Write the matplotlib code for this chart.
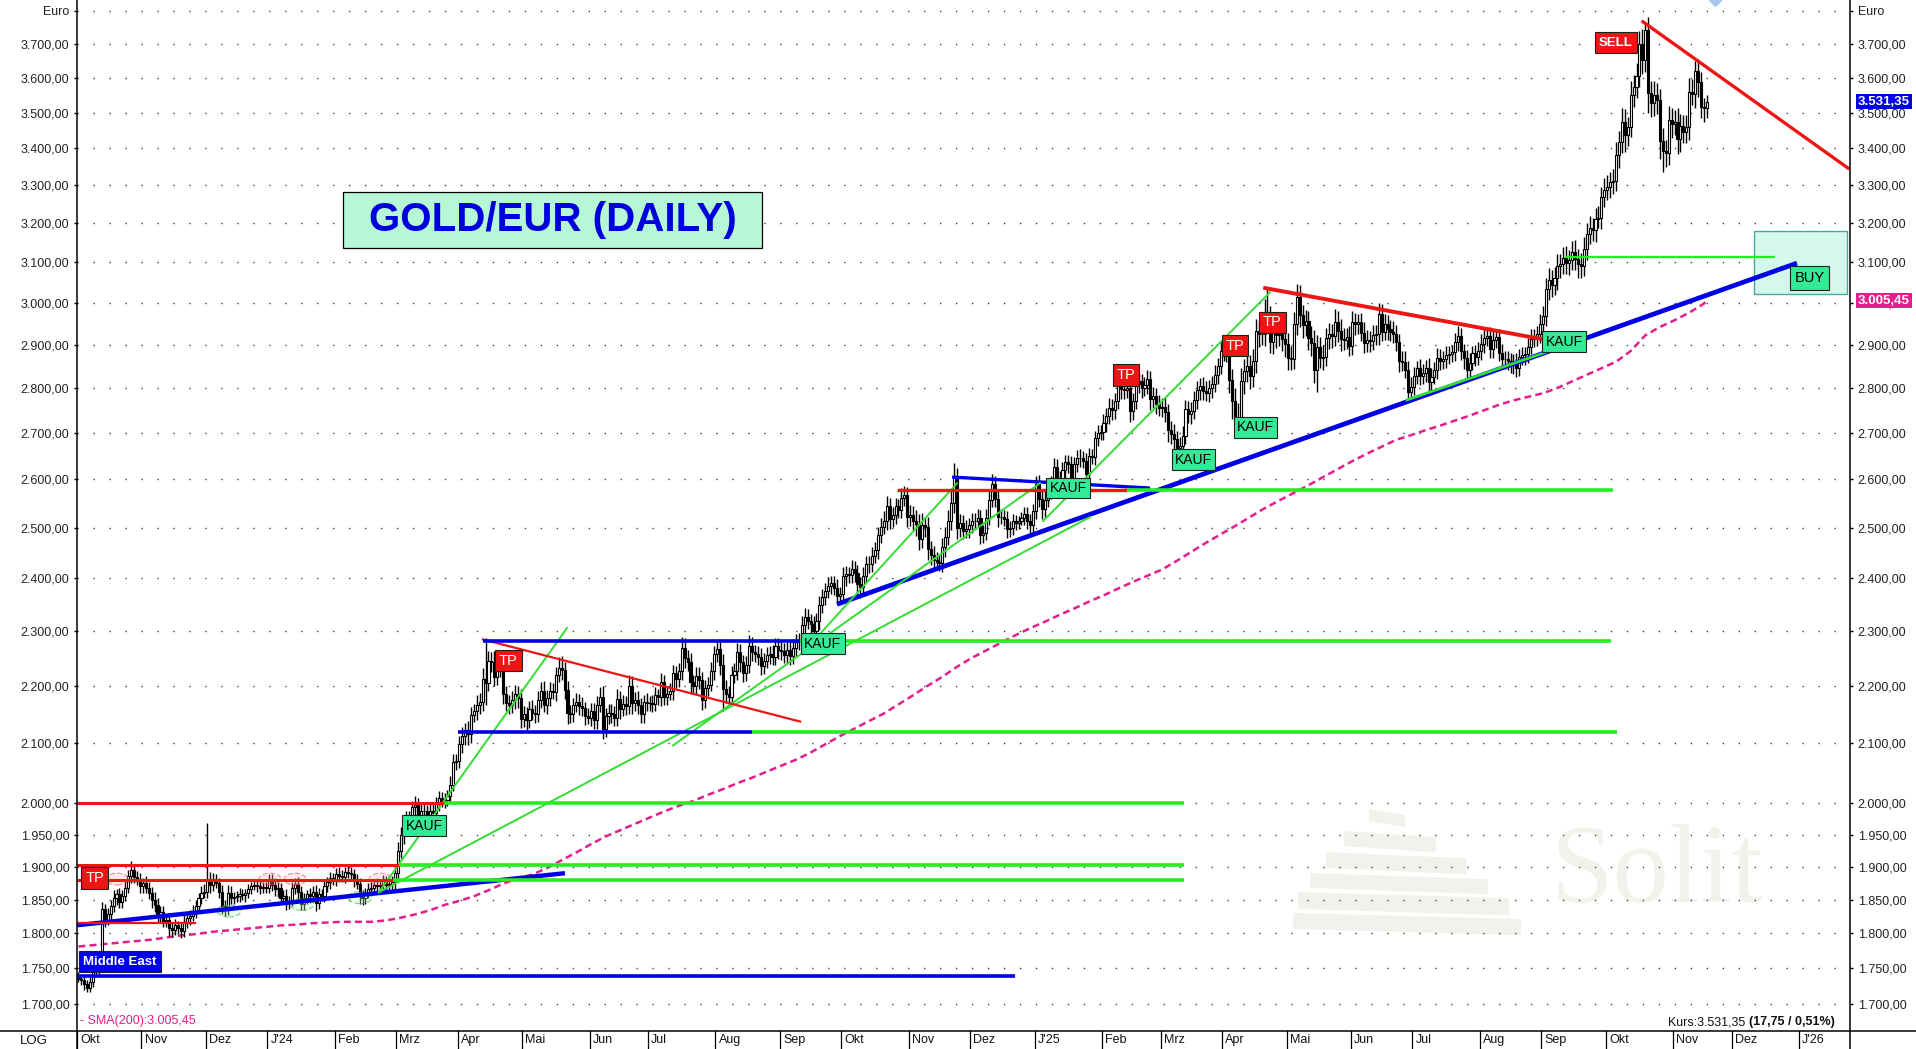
import numpy as np
import pandas as pd
import matplotlib
matplotlib.use("Agg")
import matplotlib.pyplot as plt
from matplotlib.patches import Rectangle, Polygon, Ellipse
from matplotlib.lines import Line2D
from matplotlib.ticker import FixedLocator, NullLocator

plt.rcParams['font.family'] = ['Liberation Sans', 'DejaVu Sans']
plt.rcParams['lines.scale_dashes'] = False

# Tages-Schlusskurse Gold in EUR (Handelstage ab 02.10.2023, je Zeile ein Monat)
schluss = [
    1735, 1733, 1728, 1722, 1730, 1748, 1752, 1760, 1836, 1820, 1828, 1840, 1852, 1858, 1846, 1855, 1868, 1885, 1895, 1884, 1880, 1870,
    1875, 1868, 1860, 1850, 1842, 1825, 1832, 1818, 1820, 1808, 1805, 1812, 1808, 1803, 1815, 1822, 1826, 1832, 1840, 1852, 1860, 1862,
    1880, 1872, 1880, 1875, 1862, 1840, 1835, 1860, 1852, 1854, 1856, 1858, 1857, 1860, 1866, 1870, 1872, 1871, 1867, 1869, 1868,
    1880, 1872, 1866, 1868, 1852, 1856, 1845, 1848, 1868, 1874, 1862, 1843, 1852, 1858, 1855, 1862, 1845, 1858, 1856, 1870, 1876, 1882, 1880,
    1888, 1886, 1884, 1892, 1890, 1888, 1878, 1874, 1856, 1852, 1860, 1866, 1868, 1872, 1870, 1872, 1878, 1872, 1874, 1876, 1890,
    1925, 1950, 1962, 1972, 1975, 1994, 1998, 1978, 1988, 1987, 1982, 1988, 1985, 2000, 2008, 2004, 2005, 2012, 2030, 2068, 2070,
    2098, 2112, 2122, 2115, 2148, 2155, 2165, 2172, 2212, 2205, 2245, 2242, 2215, 2236, 2240, 2185, 2170, 2166, 2174, 2186, 2178, 2142,
    2150, 2140, 2158, 2152, 2150, 2175, 2190, 2166, 2178, 2190, 2188, 2220, 2232, 2228, 2192, 2152, 2150, 2166, 2172, 2164, 2160, 2146, 2144,
    2155, 2140, 2165, 2180, 2125, 2146, 2152, 2150, 2144, 2176, 2158, 2168, 2164, 2200, 2170, 2174, 2165, 2150, 2172, 2170,
    2170, 2168, 2183, 2180, 2206, 2180, 2186, 2190, 2222, 2212, 2226, 2268, 2250, 2243, 2206, 2200, 2218, 2210, 2175, 2196, 2202, 2226, 2258,
    2266, 2238, 2195, 2186, 2180, 2220, 2226, 2260, 2242, 2222, 2238, 2272, 2260, 2257, 2252, 2236, 2245, 2255, 2258, 2252, 2272, 2265,
    2262, 2255, 2265, 2253, 2268, 2280, 2282, 2310, 2326, 2318, 2312, 2300, 2318, 2348, 2364, 2376, 2386, 2390, 2382, 2366, 2370,
    2404, 2408, 2406, 2418, 2410, 2388, 2384, 2405, 2428, 2428, 2444, 2455, 2486, 2502, 2514, 2544, 2518, 2526, 2544, 2536, 2562, 2568, 2522,
    2526, 2514, 2508, 2478, 2505, 2502, 2458, 2446, 2436, 2432, 2430, 2462, 2482, 2514, 2550, 2604, 2500, 2510, 2494, 2498, 2505,
    2514, 2515, 2520, 2486, 2490, 2520, 2558, 2590, 2560, 2522, 2523, 2518, 2498, 2500, 2514, 2510, 2515, 2520, 2528, 2513, 2506, 2534,
    2590, 2560, 2538, 2558, 2578, 2592, 2626, 2601, 2598, 2620, 2636, 2632, 2602, 2632, 2646, 2645, 2640, 2612, 2650, 2648, 2688, 2700, 2702,
    2722, 2738, 2756, 2750, 2770, 2818, 2797, 2795, 2800, 2748, 2770, 2808, 2815, 2800, 2806, 2820, 2775, 2782, 2764, 2756,
    2758, 2745, 2706, 2698, 2686, 2668, 2672, 2694, 2752, 2742, 2748, 2772, 2796, 2804, 2794, 2788, 2800, 2808, 2830, 2850, 2886,
    2885, 2888, 2818, 2770, 2732, 2722, 2815, 2838, 2850, 2828, 2862, 2932, 2925, 2926, 2975, 2962, 2906, 2940, 2922, 2926, 2914, 2902,
    2870, 2866, 2948, 3015, 2970, 2946, 2955, 2916, 2904, 2842, 2894, 2870, 2872, 2915, 2924, 2920, 2954, 2932, 2914, 2912, 2918, 2898,
    2954, 2948, 2954, 2928, 2905, 2912, 2908, 2922, 2925, 2972, 2930, 2950, 2936, 2930, 2924, 2906, 2862, 2860, 2842, 2792, 2802,
    2828, 2845, 2828, 2834, 2846, 2814, 2826, 2842, 2870, 2862, 2866, 2876, 2878, 2882, 2906, 2920, 2884, 2868, 2842, 2858, 2880, 2872, 2884,
    2902, 2916, 2920, 2890, 2912, 2918, 2880, 2866, 2866, 2862, 2852, 2858, 2846, 2872, 2875, 2877, 2895, 2914, 2918, 2925, 2950,
    2968, 3034, 3055, 3044, 3060, 3090, 3096, 3112, 3098, 3106, 3126, 3108, 3096, 3090, 3134, 3172, 3188, 3182, 3212, 3214, 3268, 3288,
    3296, 3308, 3312, 3382, 3418, 3474, 3436, 3458, 3550, 3572, 3606, 3700, 3652, 3742, 3556, 3526, 3550, 3536, 3420, 3392, 3388, 3478, 3468,
    3472, 3425, 3462, 3444, 3458, 3560, 3552, 3620, 3588, 3515, 3513.60, 3531.35,
]
erster_open = 1738

# Dochte (EUR ueber max(Open, Close) bzw. unter min(Open, Close))
docht_oben = [
    6, 5, 4, 5, 8, 10, 9, 12, 10, 8, 10, 9, 12, 8, 10, 9, 12, 10, 14, 8, 9, 10,
    8, 10, 8, 9, 12, 10, 8, 9, 7, 10, 8, 9, 6, 8, 12, 9, 8, 10, 9, 8, 10, 12,
    88, 12, 10, 9, 8, 10, 9, 12, 10, 8, 7, 9, 8, 6, 8, 7, 9, 8, 10, 7, 8,
    9, 8, 10, 8, 7, 9, 10, 8, 9, 8, 10, 9, 8, 7, 9, 8, 10, 9, 8, 9, 8, 10, 9,
    10, 12, 9, 8, 10, 9, 8, 10, 9, 8, 7, 9, 8, 9, 10, 8, 9, 8, 9, 10, 12,
    14, 12, 10, 15, 12, 10, 14, 10, 12, 15, 10, 12, 14, 10, 12, 10, 12, 10, 15, 14, 12,
    14, 15, 12, 16, 14, 12, 18, 15, 20, 74, 18, 16, 20, 15, 18, 16, 15, 14, 16, 15, 14, 16,
    14, 12, 15, 16, 14, 15, 16, 18, 14, 16, 15, 14, 20, 22, 15, 16, 14, 12, 15, 14, 16, 12, 14,
    15, 14, 16, 18, 20, 14, 15, 16, 14, 18, 15, 16, 14, 20, 18, 15, 16, 14, 12, 15,
    12, 14, 15, 12, 16, 14, 12, 15, 16, 14, 15, 20, 18, 15, 16, 14, 15, 16, 14, 15, 14, 16, 14,
    16, 18, 20, 15, 14, 16, 15, 18, 16, 14, 15, 20, 16, 14, 15, 16, 14, 15, 14, 16, 15, 14,
    14, 16, 15, 14, 16, 15, 14, 18, 16, 15, 14, 16, 15, 18, 16, 15, 16, 14, 15, 16, 14,
    18, 16, 15, 18, 16, 15, 14, 18, 16, 15, 18, 16, 15, 18, 20, 22, 18, 16, 18, 16, 20, 18, 16,
    20, 18, 22, 20, 25, 18, 20, 16, 18, 15, 16, 18, 20, 22, 25, 30, 20, 18, 16, 18, 15,
    16, 15, 18, 16, 15, 18, 20, 22, 18, 16, 15, 14, 16, 15, 14, 12, 10, 12, 14, 15, 16, 14,
    18, 20, 16, 18, 15, 16, 20, 18, 16, 18, 15, 16, 18, 15, 16, 18, 15, 16, 18, 15, 16, 18, 15,
    20, 18, 22, 20, 18, 25, 20, 22, 18, 20, 18, 22, 20, 18, 20, 22, 18, 20, 18, 20,
    20, 22, 18, 20, 22, 18, 20, 22, 20, 18, 20, 22, 20, 18, 20, 22, 18, 20, 22, 20, 22,
    25, 28, 30, 25, 30, 35, 30, 28, 30, 25, 28, 30, 25, 28, 35, 61, 30, 28, 25, 28, 25, 22,
    25, 28, 30, 30, 28, 25, 28, 25, 28, 30, 28, 25, 28, 25, 28, 25, 30, 25, 28, 25, 22, 25,
    25, 22, 20, 22, 25, 22, 20, 25, 22, 28, 25, 22, 20, 22, 25, 22, 20, 22, 25, 20, 22,
    20, 18, 22, 20, 18, 22, 20, 18, 22, 20, 18, 22, 20, 18, 22, 25, 20, 18, 20, 22, 18, 20, 22,
    22, 20, 18, 22, 20, 18, 20, 22, 18, 20, 18, 20, 22, 18, 20, 18, 20, 22, 18, 20, 22,
    25, 28, 30, 25, 28, 30, 25, 28, 30, 25, 28, 30, 25, 28, 30, 28, 30, 25, 28, 30, 28, 30,
    30, 28, 32, 35, 30, 40, 35, 30, 40, 35, 38, 40, 45, 24, 40, 35, 40, 35, 30, 35, 30, 40, 35,
    35, 40, 35, 30, 35, 40, 35, 30, 35, 30, 25, 20,
]
docht_unten = [
    5, 6, 8, 6, 5, 6, 8, 10, 6, 10, 8, 9, 8, 10, 8, 9, 7, 8, 10, 9, 8, 10,
    10, 8, 9, 12, 10, 8, 10, 9, 8, 12, 10, 8, 9, 10, 8, 7, 9, 8, 10, 9, 8, 8,
    10, 12, 9, 8, 10, 12, 10, 8, 9, 8, 7, 9, 8, 10, 7, 8, 6, 9, 8, 7, 8,
    8, 9, 10, 12, 9, 8, 10, 9, 8, 10, 12, 9, 8, 9, 10, 8, 12, 9, 8, 9, 8, 10, 8,
    9, 10, 8, 9, 8, 10, 9, 8, 12, 10, 9, 8, 9, 8, 10, 9, 8, 10, 8, 9, 10,
    10, 12, 14, 10, 12, 10, 12, 15, 10, 12, 10, 12, 10, 14, 12, 10, 12, 10, 12, 10, 14,
    12, 14, 15, 18, 14, 12, 15, 14, 16, 40, 15, 18, 16, 14, 20, 18, 15, 16, 14, 15, 18, 16,
    15, 18, 14, 12, 16, 14, 15, 12, 16, 14, 12, 15, 14, 18, 16, 20, 15, 14, 12, 16, 14, 15, 12,
    14, 16, 15, 12, 18, 15, 14, 16, 15, 14, 16, 12, 15, 14, 20, 15, 14, 16, 15, 14,
    14, 15, 12, 14, 16, 15, 14, 12, 15, 16, 14, 15, 18, 16, 20, 15, 14, 16, 18, 15, 14, 12, 15,
    15, 18, 40, 16, 15, 14, 16, 15, 18, 16, 14, 15, 16, 15, 14, 16, 15, 14, 16, 15, 14, 16,
    15, 14, 16, 15, 14, 16, 15, 14, 18, 15, 16, 14, 15, 16, 14, 15, 14, 16, 15, 14, 16,
    16, 18, 15, 16, 18, 20, 22, 16, 15, 18, 16, 15, 18, 16, 15, 18, 20, 16, 18, 15, 16, 18, 20,
    18, 20, 25, 22, 18, 20, 22, 20, 18, 16, 15, 18, 20, 16, 18, 20, 22, 18, 16, 15, 18,
    15, 16, 14, 18, 16, 14, 15, 16, 18, 20, 15, 14, 18, 16, 15, 14, 12, 10, 14, 15, 16, 14,
    16, 18, 20, 15, 16, 18, 15, 16, 18, 15, 16, 18, 20, 15, 16, 18, 15, 20, 16, 15, 18, 16, 15,
    18, 20, 18, 22, 20, 18, 22, 20, 18, 25, 20, 18, 20, 22, 18, 20, 25, 20, 22, 18,
    22, 20, 25, 22, 20, 25, 22, 20, 18, 20, 22, 18, 20, 22, 20, 18, 20, 22, 18, 20, 18,
    22, 25, 30, 40, 30, 25, 30, 28, 25, 30, 25, 28, 30, 25, 28, 30, 25, 28, 30, 25, 28, 30,
    28, 25, 22, 25, 28, 30, 25, 28, 30, 30, 52, 25, 28, 22, 25, 28, 22, 25, 28, 25, 22, 25,
    22, 25, 22, 20, 25, 22, 25, 20, 22, 25, 22, 20, 25, 22, 20, 22, 25, 22, 20, 15, 20,
    18, 20, 22, 18, 20, 25, 20, 18, 22, 20, 18, 20, 22, 18, 20, 22, 20, 25, 22, 20, 18, 22, 20,
    20, 22, 18, 20, 22, 20, 18, 20, 22, 20, 18, 20, 22, 18, 20, 22, 20, 18, 20, 22, 20,
    22, 25, 28, 30, 25, 28, 30, 25, 28, 30, 25, 28, 35, 30, 25, 28, 25, 28, 30, 25, 28, 25,
    28, 30, 32, 28, 35, 30, 45, 30, 28, 35, 30, 32, 40, 35, 56, 40, 35, 40, 50, 56, 40, 35, 40,
    30, 40, 35, 30, 28, 35, 30, 40, 45, 30, 40, 30,
]

sma_tag = list(range(0, 556, 5)) + [556]
sma200 = [
    1781, 1783, 1785, 1787, 1789, 1791, 1794, 1797, 1799, 1802,
    1804, 1806, 1808, 1810, 1812, 1813, 1815, 1816, 1817, 1817,
    1817, 1819, 1823, 1828, 1834, 1842, 1848, 1855, 1864, 1874,
    1882, 1888, 1898, 1910, 1922, 1935, 1947, 1957, 1967, 1977,
    1987, 1996, 2004, 2014, 2023, 2033, 2042, 2052, 2062, 2072,
    2084, 2098, 2112, 2125, 2138, 2151, 2167, 2183, 2200, 2216,
    2234, 2250, 2264, 2278, 2292, 2305, 2317, 2330, 2342, 2355,
    2367, 2380, 2393, 2405, 2417, 2434, 2452, 2470, 2487, 2504,
    2522, 2540, 2556, 2572, 2588, 2605, 2622, 2639, 2655, 2670,
    2685, 2695, 2706, 2716, 2727, 2738, 2750, 2762, 2772, 2780,
    2788, 2800, 2815, 2830, 2845, 2860, 2885, 2922, 2942, 2958,
    2976, 2998, 3005.45,
]

# Achse
y_ticks = [1700, 1750, 1800, 1850, 1900, 1950, 2000, 2100, 2200, 2300, 2400, 2500, 2600,
           2700, 2800, 2900, 3000, 3100, 3200, 3300, 3400, 3500, 3600, 3700, 3800]
y_min, y_max = 1663.2, 3834
x_min, x_max = -0.5, 604.9
monatsnamen = ['Jan', 'Feb', 'Mrz', 'Apr', 'Mai', 'Jun', 'Jul', 'Aug', 'Sep', 'Okt', 'Nov', 'Dez']

# Zeichnungen: (Tag, Kurs, Tag, Kurs, Breite)
blau_trends = [(-0.5, 1812, 166.1, 1890, 3.2), (259.0, 2350, 586.8, 3098, 3.4), (298.3, 2605, 365.9, 2582, 2.4)]
gruen_trends = [(102.6, 1861, 166.8, 2305, 1.4), (102.6, 1861, 345.4, 2522, 1.4), (203.0, 2096, 328.3, 2592, 1.4),
                (248.1, 2264, 300.0, 2592, 1.4), (329.4, 2514, 406.9, 3026, 1.4), (453.6, 2773, 501.4, 2883, 2.0)]
rot_trends = [(138.1, 2284, 246.4, 2137, 1.6), (405.2, 3036, 499.7, 2913, 2.8), (534.2, 3767, 604.2, 3346, 2.4)]
# Horizontale Marken: (Kurs, von Tag, bis Tag, Breite)
rot_marken = [(2000, -0.5, 124.8, 2.2), (1902, -0.5, 109.5, 2.2), (1880, -0.5, 107.4, 2.2),
              (1815, -0.5, 40.1, 1.6), (2578, 279.5, 358.0, 2.4)]
gruen_marken = [(2000, 124.8, 377.5, 2.6), (1902, 109.5, 377.5, 2.6), (1880, 107.4, 377.5, 2.6),
                (2282, 246.4, 523.3, 2.6), (2119, 230.0, 525.4, 2.6), (2578, 358.0, 524.0, 2.6),
                (3113, 507.6, 579.3, 1.6)]
blau_marken = [(2282, 138.1, 246.4, 2.6), (2119, 129.6, 230.0, 2.6), (1739, -0.5, 319.8, 2.6)]
tp_boxen = [(5.5, 1883), (146.8, 2245), (357.7, 2829), (394.9, 2898), (407.7, 2953)]
kauf_boxen = [(118.0, 1964), (254.1, 2276), (337.9, 2582), (380.7, 2642), (401.9, 2712), (507.3, 2907)]
rote_kreise = [(13.2, 1881), (65.4, 1881), (74.0, 1881), (103.0, 1881)]
gruene_kreise = [(51.4, 1833), (76.3, 1843), (96.1, 1853)]

ROT = '#ee1515'
BLAU = '#0000e6'
GRUEN = '#22ee22'
KAUF_GRUEN = '#33eb96'
MAGENTA = '#e41e8c'
WASSER = '#f3f1ec'


def de_zahl(v):
    s = f"{v:,.2f}"
    return s.replace(',', 'X').replace('.', ',').replace('X', '.')


fig = plt.figure(figsize=(19.16, 10.49), dpi=100)
ax = fig.add_axes([77 / 1916, 18 / 1049, 1773 / 1916, 1031 / 1049])
ax.set_yscale('log')
ax.set_xlim(x_min, x_max)
ax.set_ylim(y_min, y_max)

# Kerzen
c = np.array(schluss, dtype=float)
o = np.concatenate([[erster_open], c[:-1]])
oben = np.maximum(o, c)
unten = np.minimum(o, c)
hoch = oben + np.array(docht_oben)
tief = unten - np.array(docht_unten)
x = np.arange(len(c))
ax.vlines(x, tief, hoch, color='black', linewidth=1.0, zorder=3)
steigend = c >= o
ax.bar(x[steigend], (oben - unten)[steigend], bottom=unten[steigend], width=0.72,
       color='white', edgecolor='black', linewidth=0.8, zorder=4)
ax.bar(x[~steigend], (oben - unten)[~steigend], bottom=unten[~steigend], width=0.72,
       color='black', edgecolor='black', linewidth=0.8, zorder=4)

# SMA 200
ax.plot(sma_tag, sma200, color=MAGENTA, linewidth=1.8, linestyle=(0, (5, 3)), zorder=2.5)

# Linien
for x0, y0, x1, y1, lw in blau_trends:
    ax.plot([x0, x1], [y0, y1], color=BLAU, linewidth=lw, solid_capstyle='butt', zorder=6)
for x0, y0, x1, y1, lw in gruen_trends:
    ax.plot([x0, x1], [y0, y1], color='#33dd33', linewidth=lw, zorder=6)
for x0, y0, x1, y1, lw in rot_trends:
    ax.plot([x0, x1], [y0, y1], color=ROT, linewidth=lw, zorder=6)
for kurs, a, b, lw in rot_marken:
    ax.hlines(kurs, a, b, color=ROT, linewidth=lw, zorder=6)
for kurs, a, b, lw in gruen_marken:
    ax.hlines(kurs, a, b, color=GRUEN, linewidth=lw, zorder=6)
for kurs, a, b, lw in blau_marken:
    ax.hlines(kurs, a, b, color=BLAU, linewidth=lw, zorder=6)

for xm, ym in rote_kreise:
    ax.add_patch(Ellipse((xm, ym), 7.5, 18, fc=(1, 0.7, 0.7, 0.3), ec=(0.93, 0.3, 0.3, 0.6), lw=0.8, ls='--', zorder=5))
for xm, ym in gruene_kreise:
    ax.add_patch(Ellipse((xm, ym), 8, 18, fc=(0.7, 1, 0.7, 0.3), ec=(0.2, 0.65, 0.2, 0.6), lw=0.8, ls='--', zorder=5))

# BUY-Zone
ax.add_patch(Rectangle((572.1, 3021.5), 31.8, 158.5, fc='#d4f8ec', ec='#4aa8a0', lw=1.0, zorder=5.5))


def box(xm, ym, txt, fc, tc, bold=False, fs=9.5, pad=0.18):
    ax.text(xm, ym, txt, ha='center', va='center', fontsize=fs, color=tc,
            fontweight='bold' if bold else 'normal', zorder=9,
            bbox=dict(boxstyle=f'square,pad={pad}', fc=fc, ec='#202020', lw=0.8))


for xm, ym in tp_boxen:
    box(xm, ym, 'TP', ROT, 'white', fs=10.5, pad=0.26)
for xm, ym in kauf_boxen:
    box(xm, ym, 'KAUF', KAUF_GRUEN, 'black', fs=10, pad=0.24)
box(525.0, 3704, 'SELL', ROT, 'white', bold=True, fs=9.5, pad=0.34)
box(591.1, 3061, 'BUY', KAUF_GRUEN, 'black', fs=10.5, pad=0.32)
box(14.2, 1759, 'Middle East', BLAU, 'white', bold=True, fs=9.5, pad=0.34)

# Titel
ax.add_patch(Rectangle((90.3, 3136), 143.1, 146, fc='#b6f7d6', ec='black', lw=0.9, zorder=9))
ax.text(161.9, 3208, 'GOLD/EUR (DAILY)', ha='center', va='center', fontsize=29,
        fontweight='bold', color='#0000dd', zorder=10)

# Wasserzeichen
ax.text(0.8308, 0.1251, 'Solit', transform=ax.transAxes, fontsize=81,
        family=['Liberation Serif', 'DejaVu Serif'], color=WASSER, ha='left', va='baseline', zorder=0.2)
logo_stufen = [(0.7287, 0.7490, 0.2153, 0.2037), (0.7146, 0.7665, 0.1940, 0.1794),
               (0.7045, 0.7834, 0.1736, 0.1581), (0.6954, 0.7958, 0.1532, 0.1387),
               (0.6887, 0.8077, 0.1348, 0.1183), (0.6858, 0.8144, 0.1145, 0.0989)]
for xl, xr, yt, yb in logo_stufen:
    ax.add_patch(Polygon([(xl, yt), (xr, yt - 0.006), (xr, yb - 0.006), (xl, yb)],
                         closed=True, transform=ax.transAxes, fc=WASSER, ec='none', zorder=0.3))

# kleine Markierung oben
ax.plot([558.8], [y_max], marker='D', ms=6, color='#a9c6ec', zorder=1)

# Y-Achse
ax.yaxis.set_major_locator(FixedLocator(y_ticks))
ax.yaxis.set_minor_locator(NullLocator())
ax.set_yticklabels(['Euro' if t == 3800 else de_zahl(t) for t in y_ticks])
ax.tick_params(axis='y', which='both', left=True, right=True, labelleft=True, labelright=True,
               direction='out', length=2.5, width=1, pad=3, labelsize=9, labelcolor='#222222')
ax.grid(True, axis='y', which='major', color='#444444', linewidth=1.0, linestyle=(0, (1.0, 10.5)), zorder=0.5)
ax.set_axisbelow(True)
ax.xaxis.set_visible(False)
for sp in ax.spines.values():
    sp.set_visible(False)

# Kursmarken rechts
ax.text(1.0045, 3531.35, de_zahl(3531.35), transform=ax.get_yaxis_transform(), ha='left', va='center',
        fontsize=9.5, fontweight='bold', color='white', zorder=12, clip_on=False,
        bbox=dict(boxstyle='square,pad=0.14', fc=BLAU, ec='none'))
ax.text(1.0045, 3005.45, de_zahl(3005.45), transform=ax.get_yaxis_transform(), ha='left', va='center',
        fontsize=9.5, fontweight='bold', color='white', zorder=12, clip_on=False,
        bbox=dict(boxstyle='square,pad=0.14', fc=MAGENTA, ec='none'))

# Monatsleiste
alle_tage = pd.bdate_range('2023-10-02', '2026-02-27')
monate = np.asarray(alle_tage.month)
starts = np.flatnonzero(np.r_[True, monate[1:] != monate[:-1]])
xt = ax.get_xaxis_transform()
streifen = 18 / 1031
for s in starts:
    if s - 0.5 >= x_max:
        break
    d = alle_tage[s]
    lab = f"J'{d.year % 100:02d}" if d.month == 1 else monatsnamen[d.month - 1]
    ax.plot([s - 0.5, s - 0.5], [0, -streifen], transform=xt, color='black', linewidth=0.9, clip_on=False)
    ax.text(s + 0.6, -streifen / 2, lab, transform=xt, ha='left', va='center', fontsize=9, color='#111111',
            clip_on=False)

# Rahmen
pos = ax.get_position()
fig.add_artist(Line2D([0, 1], [pos.y0, pos.y0], transform=fig.transFigure, color='black', linewidth=1.1))
fig.add_artist(Line2D([pos.x0, pos.x0], [0, 1], transform=fig.transFigure, color='black', linewidth=1.1))
fig.add_artist(Line2D([pos.x1, pos.x1], [0, 1], transform=fig.transFigure, color='black', linewidth=1.1))
fig.text(20 / 1916, 8 / 1049, 'LOG', ha='left', va='center', fontsize=9.5, color='#111111')

# Fusszeilen
ax.text(0.0015, 0.0095, '- SMA(200):' + de_zahl(3005.45), transform=ax.transAxes, ha='left', va='center',
        fontsize=9, color=MAGENTA, zorder=10)
fig.canvas.draw()
r = fig.canvas.get_renderer()
t_fett = ax.text(0.9915, 0.0087, '(17,75 / 0,51%)', transform=ax.transAxes, ha='right', va='center',
                 fontsize=9, fontweight='bold', color='#111111', zorder=10)
bb = t_fett.get_window_extent(renderer=r)
x_links = ax.transAxes.inverted().transform((bb.x0, bb.y0))[0]
ax.text(x_links - 0.002, 0.0087, 'Kurs:3.531,35', transform=ax.transAxes, ha='right', va='center',
        fontsize=9, color='#111111', zorder=10)

fig.savefig('out.png', dpi=100, facecolor='white')
